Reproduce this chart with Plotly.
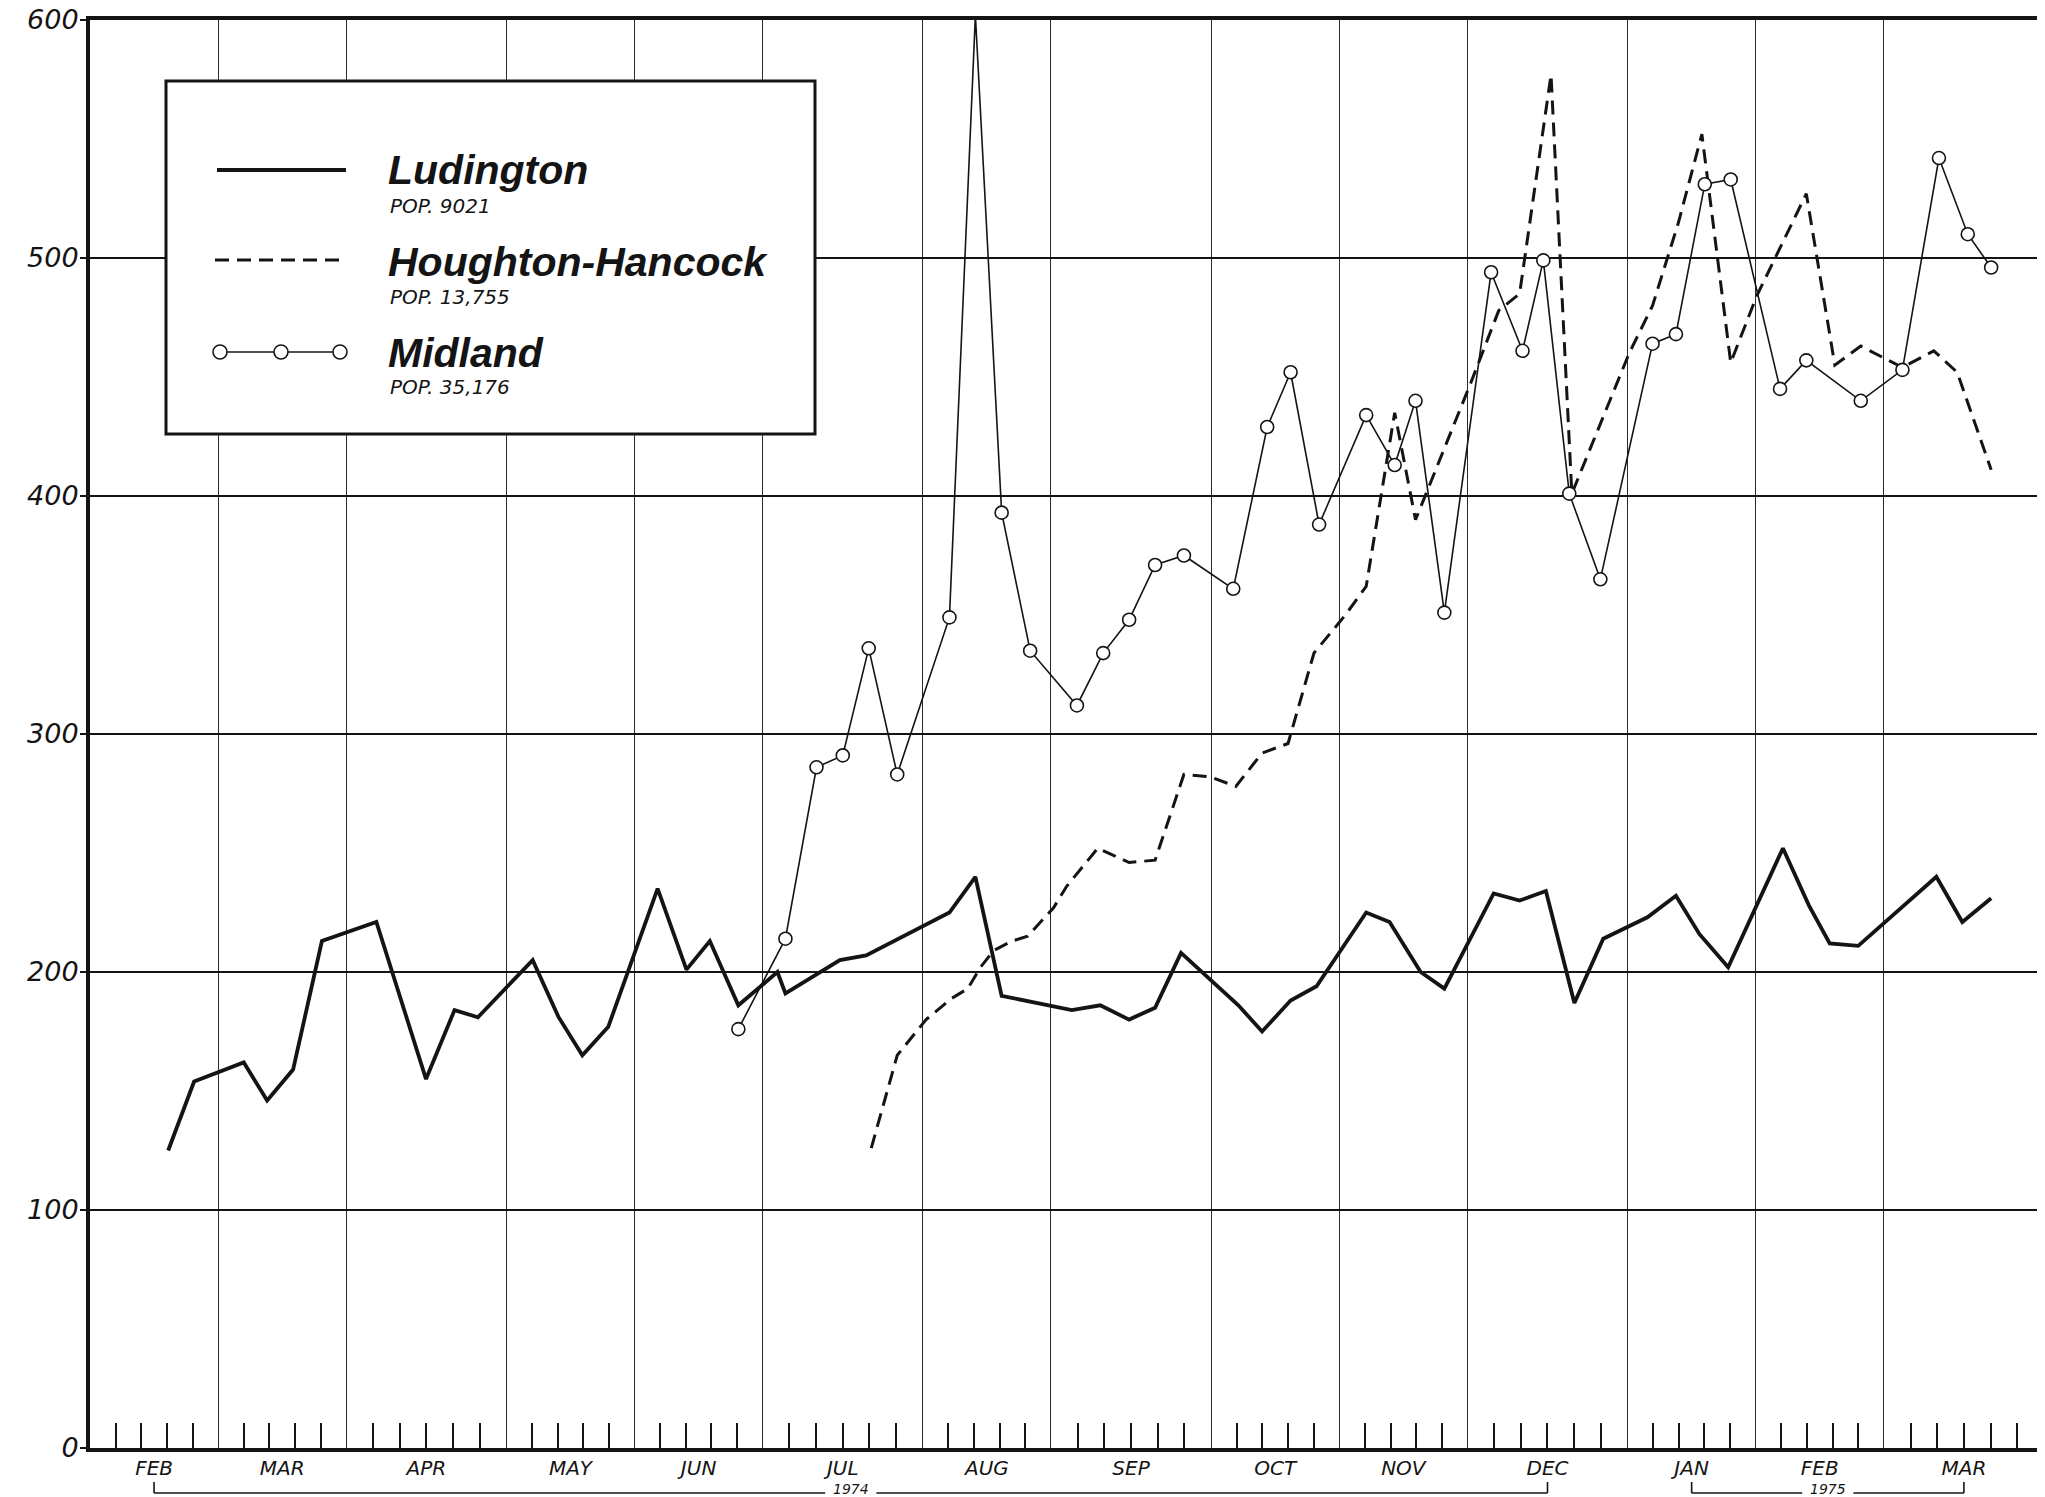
import plotly.graph_objects as go

# ---------------- data ----------------
month_labels = ["FEB", "MAR", "APR", "MAY", "JUN", "JUL", "AUG", "SEP",
                "OCT", "NOV", "DEC", "JAN", "FEB", "MAR"]
weeks_per_month = [4, 4, 5, 4, 4, 5, 4, 5, 4, 4, 5, 4, 4, 5]

# x = position on the week scale (0 = start of Feb 1974, 61 = end of Mar 1975)
lud_x = [2.44, 3.25, 4.80, 5.53, 6.34, 7.24, 8.94, 10.49, 11.38, 12.11, 13.82, 14.63,
         15.37, 16.18, 17.72, 18.62, 19.35, 20.24, 21.46, 21.71, 23.41, 24.23, 26.83,
         27.64, 28.46, 30.65, 31.54, 32.44, 33.25, 34.06, 35.85, 36.59, 37.48, 38.29,
         39.84, 40.57, 41.54, 42.28, 43.82, 44.63, 45.45, 46.34, 47.24, 48.62, 49.51,
         50.24, 51.14, 52.85, 53.66, 54.31, 55.20, 57.64, 58.45, 59.35]
lud_y = [125, 154, 162, 146, 159, 213, 221, 155, 184, 181, 205, 181,
         165, 177, 235, 201, 213, 186, 200, 191, 205, 207, 225,
         240, 190, 184, 186, 180, 185, 208, 186, 175, 188, 194,
         225, 221, 200, 193, 233, 230, 234, 187, 214, 223, 232,
         216, 202, 252, 228, 212, 211, 240, 221, 231]

hh_x = [24.39, 25.20, 26.10, 26.91, 27.40, 27.80, 28.21, 28.78, 29.27, 30.08, 30.49,
        31.46, 32.44, 33.25, 34.15, 34.96, 35.77, 36.59, 37.40, 38.21, 39.19, 39.84,
        40.73, 41.38, 43.09, 43.98, 44.63, 45.61, 46.26, 48.05, 48.78, 49.59, 50.32,
        51.22, 52.03, 53.58, 54.47, 55.28, 56.58, 57.56, 58.29, 59.35]
hh_y = [126, 165, 180, 189, 193, 202, 209, 213, 215, 227, 236,
        252, 246, 247, 283, 282, 278, 292, 296, 334, 350, 362,
        435, 390, 447, 478, 485, 577, 401, 460, 480, 515, 552,
        456, 484, 527, 455, 463, 454, 461, 452, 411]

mid_x = [20.24, 21.71, 22.68, 23.50, 24.31, 25.20, 26.83, 27.64, 28.46, 29.35, 30.81,
         31.63, 32.44, 33.25, 34.15, 35.69, 36.75, 37.48, 38.37, 39.84, 40.73, 41.38,
         42.28, 43.74, 44.72, 45.37, 46.18, 47.15, 48.78, 49.51, 50.41, 51.22, 52.76,
         53.58, 55.28, 56.58, 57.72, 58.62, 59.35]
mid_y = [176, 214, 286, 291, 336, 283, 349, 602, 393, 335, 312,
         334, 348, 371, 375, 361, 429, 452, 388, 434, 413, 440,
         351, 494, 461, 499, 401, 365, 464, 468, 531, 533, 445,
         457, 440, 453, 542, 510, 496]

y_ticks = [0, 100, 200, 300, 400, 500, 600]

legend_names = ["Ludington", "Houghton-Hancock", "Midland"]
legend_pops = ["POP. 9021", "POP. 13,755", "POP. 35,176"]
years = ["1974", "1975"]

# ---------------- axis structure ----------------
bounds = [0]
for n in weeks_per_month:
    bounds.append(bounds[-1] + n)
week_ticks = []
for i, n in enumerate(weeks_per_month):
    week_ticks += [bounds[i] + j * n / (n + 1) for j in range(1, n + 1)]
month_centers = [(bounds[i] + bounds[i + 1]) / 2 for i in range(len(weeks_per_month))]
x_max = bounds[-1]

# page is drawn with the browser's 8px body margin
OFF = 8
W, H = 2037, 1489
ML, MR, MT, MB = 82, 1, 12, 49
PW, PH = W - ML - MR, H - MT - MB


def px(xp):          # page pixel x -> paper
    return (xp - OFF - ML) / PW


def py(yp):          # page pixel y -> paper
    return (H - MB - (yp - OFF)) / PH


def ux(u):           # week-scale x -> paper
    return u / x_max


INK = "#141414"
FONT = "DejaVu Sans"

fig = go.Figure()
fig.add_trace(go.Scatter(x=lud_x, y=lud_y, mode="lines", name="Ludington",
                         line=dict(color=INK, width=3.8), showlegend=False))
fig.add_trace(go.Scatter(x=hh_x, y=hh_y, mode="lines", name="Houghton-Hancock",
                         line=dict(color=INK, width=3, dash="14px,8px"), showlegend=False))
fig.add_trace(go.Scatter(x=mid_x, y=mid_y, mode="lines+markers", name="Midland",
                         line=dict(color=INK, width=1.6),
                         marker=dict(symbol="circle", size=13, color="white",
                                     line=dict(color=INK, width=1.6)),
                         cliponaxis=False, showlegend=False))
fig.add_trace(go.Scatter(x=[0, x_max], y=[None, None], xaxis="x2", showlegend=False,
                         hoverinfo="skip"))

fig.update_layout(
    width=W, height=H, margin=dict(l=ML, r=MR, t=MT, b=MB, autoexpand=False),
    paper_bgcolor="white", plot_bgcolor="white", showlegend=False,
    xaxis=dict(range=[0, x_max], tickmode="array", tickvals=bounds, showticklabels=False,
               ticks="", showgrid=True, gridcolor="#2a2a2a", gridwidth=1.3, zeroline=False,
               showline=True, linecolor=INK, linewidth=3.5, mirror=True,
               layer="below traces", automargin=False,
               minor=dict(tickmode="array", tickvals=week_ticks, ticks="inside",
                          ticklen=25, tickwidth=2, tickcolor=INK, showgrid=False)),
    xaxis2=dict(range=[0, x_max], overlaying="x", side="bottom", tickmode="array",
                tickvals=month_centers, ticktext=month_labels, ticks="", showgrid=False,
                zeroline=False, showline=False, ticklabelstandoff=6, automargin=False,
                tickfont=dict(family=FONT, size=20, color=INK, style="italic")),
    yaxis=dict(range=[0, 600], tickmode="array", tickvals=y_ticks, showgrid=True,
               gridcolor=INK, gridwidth=1.9, zeroline=False, showline=True,
               linecolor=INK, linewidth=4, mirror=True, ticks="outside", ticklen=6,
               tickwidth=1.5, tickcolor=INK, layer="below traces", automargin=False,
               ticklabeloverflow="allow", ticklabelstandoff=-4,
               tickfont=dict(family=FONT, size=27, color=INK, style="italic")),
)

shapes = []
annotations = []


def bracket(u0, u1, label):
    ul = (u0 + u1) / 2
    gap = 0.8
    yb, yt = py(1493), py(1482)
    for a, b in ((u0, ul - gap), (ul + gap, u1)):
        shapes.append(dict(type="line", xref="paper", yref="paper", x0=ux(a), x1=ux(b),
                           y0=yb, y1=yb, line=dict(color=INK, width=1.6)))
    for ue in (u0, u1):
        shapes.append(dict(type="line", xref="paper", yref="paper", x0=ux(ue), x1=ux(ue),
                           y0=yb, y1=yt, line=dict(color=INK, width=1.6)))
    annotations.append(dict(x=ux(ul), y=py(1489), xref="paper", yref="paper", text=label,
                            xanchor="center", yanchor="middle", showarrow=False,
                            borderpad=0,
                            font=dict(family=FONT, size=14, color=INK, style="italic")))


bracket(month_centers[0], month_centers[10], years[0])
bracket(month_centers[11], month_centers[13], years[1])

# legend box
shapes.append(dict(type="rect", xref="paper", yref="paper", x0=px(166), x1=px(815),
                   y0=py(434), y1=py(81), fillcolor="white", layer="above",
                   line=dict(color=INK, width=3)))
row_line_y = [170, 260, 352]
row_name_y = [170, 262, 353]
row_pop_y = [206, 297, 387]
shapes.append(dict(type="line", xref="paper", yref="paper", x0=px(217), x1=px(346),
                   y0=py(row_line_y[0]), y1=py(row_line_y[0]), layer="above",
                   line=dict(color=INK, width=3.8)))
shapes.append(dict(type="line", xref="paper", yref="paper", x0=px(215), x1=px(346),
                   y0=py(row_line_y[1]), y1=py(row_line_y[1]), layer="above",
                   line=dict(color=INK, width=3, dash="14px,8px")))
shapes.append(dict(type="line", xref="paper", yref="paper", x0=px(220), x1=px(340),
                   y0=py(row_line_y[2]), y1=py(row_line_y[2]), layer="above",
                   line=dict(color=INK, width=1.6)))
for cx in (220, 281, 340):
    shapes.append(dict(type="circle", xref="paper", yref="paper", xsizemode="pixel",
                       ysizemode="pixel", xanchor=px(cx), yanchor=py(row_line_y[2]),
                       x0=-7, x1=7, y0=-7, y1=7, fillcolor="white", layer="above",
                       line=dict(color=INK, width=1.6)))

for i in range(3):
    annotations.append(dict(x=px(386), y=py(row_name_y[i]), xref="paper", yref="paper",
                            xanchor="left", yanchor="middle", showarrow=False,
                            text=legend_names[i],
                            font=dict(family="Liberation Sans", size=41, color=INK,
                                      style="italic", weight="bold")))
    annotations.append(dict(x=px(388), y=py(row_pop_y[i]), xref="paper", yref="paper",
                            xanchor="left", yanchor="middle", showarrow=False,
                            text=legend_pops[i],
                            font=dict(family=FONT, size=20, color=INK, style="italic")))

fig.update_layout(shapes=shapes, annotations=annotations)
fig.write_html("out.html")
